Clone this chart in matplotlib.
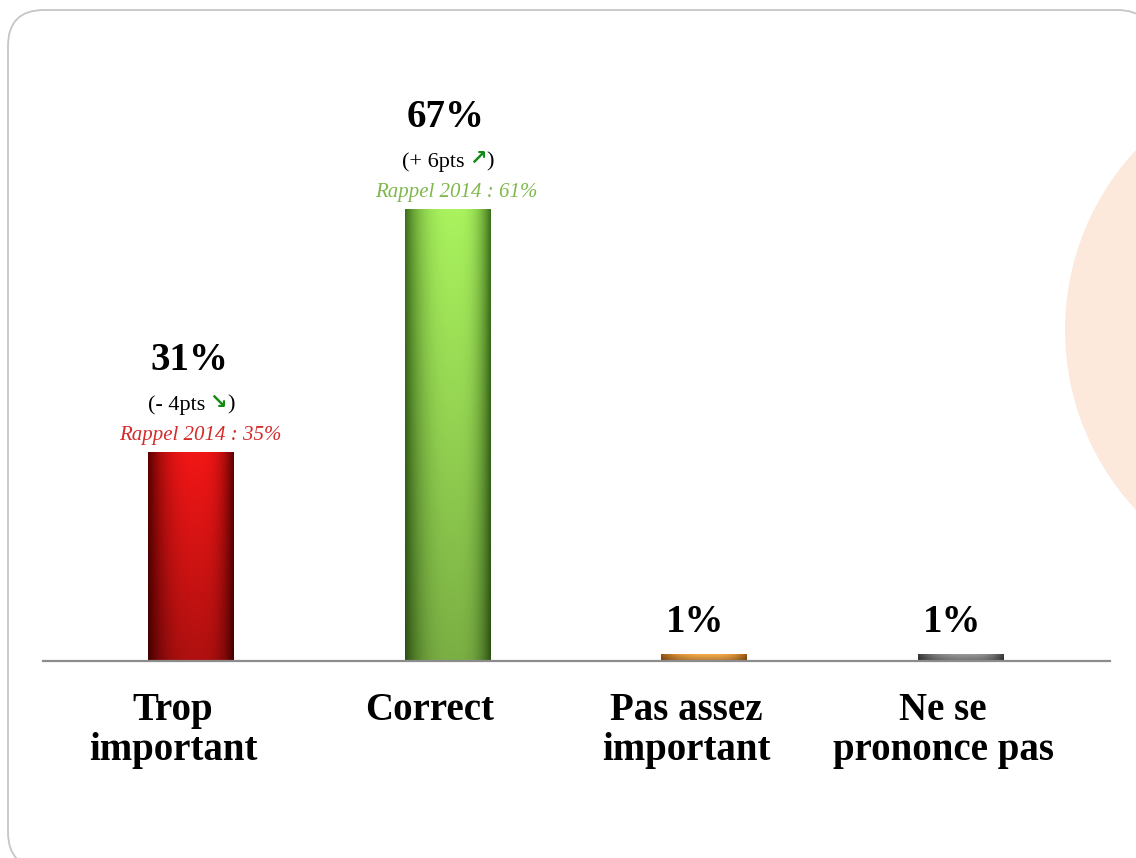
import numpy as np
import matplotlib
matplotlib.use("Agg")
import matplotlib.pyplot as plt
import matplotlib.patches as mpatches
import matplotlib.transforms as mtransforms

# --- data -------------------------------------------------------------
categories = ["Trop\nimportant", "Correct", "Pas assez\nimportant", "Ne se\nprononce pas"]
values = [31, 67, 1, 1]
value_labels = ["31%", "67%", "1%", "1%"]
change_text = ["(- 4pts", "(+ 6pts", None, None]
change_arrow = ["\u2198", "\u2197", None, None]
recall_text = ["Rappel 2014 : 35%", "Rappel 2014 : 61%", None, None]

# bar shading: (edge colour, centre colour)
bar_shades = [
    ("#5a0000", "#f21616"),
    ("#3c6e1a", "#aaf35e"),
    ("#9a5610", "#f9ac4a"),
    ("#3a3a3a", "#9a9a9a"),
]
recall_colors = ["#d42a2a", "#7fb84c", None, None]
arrow_color = "#138a13"

SERIF = ["Liberation Serif", "DejaVu Serif"]
W, H, DPI = 1136, 858, 100

fig = plt.figure(figsize=(W / DPI, H / DPI), dpi=DPI)
fig.patch.set_facecolor("white")

ident = mtransforms.IdentityTransform()

# rounded frame and decorative circle on the right (pixel coordinates)
fig.patches.append(mpatches.FancyBboxPatch((8, -10), 1145, 858, transform=ident,
                                           boxstyle="round,pad=0,rounding_size=36",
                                           facecolor="white", edgecolor="#c6c6c6",
                                           linewidth=1.3, zorder=-3))
fig.patches.append(mpatches.Circle((1329, H - 330), 264, transform=ident,
                                   facecolor="#fde9dc", edgecolor="none", zorder=-2))

# axes geometry (pixels)
ax_left, ax_right, ax_base, ax_top = 43, 1110, 661, 40
px_per_unit = 6.75
ax = fig.add_axes([ax_left / W, (H - ax_base) / H,
                   (ax_right - ax_left) / W, (ax_base - ax_top) / H])
ax.set_facecolor("none")
XLIM = (-0.577, 3.58)
YLIM = (0, (ax_base - ax_top) / px_per_unit)
for s in ("left", "right", "top"):
    ax.spines[s].set_visible(False)
ax.spines["bottom"].set_color("#8c8c8c")
ax.spines["bottom"].set_linewidth(1.6)
ax.set_yticks([])

x = np.arange(len(categories))
bars = ax.bar(x, values, width=0.335, color="none", edgecolor="none", zorder=2)

# cylinder-like gradient inside each bar
nx, ny = 200, 200
u = np.linspace(0, 1, nx)
peak = 0.58
w = np.where(u < peak, (u - peak) / peak, (u - peak) / (1 - peak))
h = 1 - np.abs(w) ** 2.8
v = np.linspace(1.0, 0.72, ny)  # bright top, darker bottom
for bar, (edge, centre) in zip(bars, bar_shades):
    e = np.array(matplotlib.colors.to_rgb(edge))
    c = np.array(matplotlib.colors.to_rgb(centre))
    img = e[None, None, :] + (c - e)[None, None, :] * h[None, :, None]
    img = np.clip(img * v[:, None, None], 0, 1)
    x0, y0 = bar.get_x(), bar.get_y()
    im = ax.imshow(img, extent=(x0, x0 + bar.get_width(), y0, y0 + bar.get_height()),
                   aspect="auto", origin="upper", zorder=2, interpolation="bilinear")
    im.set_clip_path(bar)
ax.set_xlim(*XLIM)
ax.set_ylim(*YLIM)

# category labels, sitting slightly left of the bar centres
ax.set_xticks(x)
ax.set_xticklabels(categories, family=SERIF, fontweight="bold", fontsize=28,
                   linespacing=1.12)
ax.tick_params(axis="x", length=0, pad=22)
shift = mtransforms.ScaledTranslation(-18 / DPI, 0, fig.dpi_scale_trans)
for lbl in ax.get_xticklabels():
    lbl.set_transform(lbl.get_transform() + shift)

renderer = fig.canvas.get_renderer()


def text_width(s, **kw):
    t = fig.text(0, 0, s, **kw)
    wd = t.get_window_extent(renderer).width
    t.remove()
    return wd


for xi, val, lab, ch, arr, rc, rcol in zip(x, values, value_labels, change_text,
                                           change_arrow, recall_text, recall_colors):
    if ch is None:
        ax.annotate(lab, (xi, val), xytext=(-9, 22), textcoords="offset pixels",
                    ha="center", va="baseline", family=SERIF, fontweight="bold",
                    fontsize=28, color="black")
        continue
    ax.annotate(lab, (xi, val), xytext=(-2, 82), textcoords="offset pixels",
                ha="center", va="baseline", family=SERIF, fontweight="bold",
                fontsize=28, color="black")
    ax.annotate(rc, (xi, val), xytext=(9, 12), textcoords="offset pixels",
                ha="center", va="baseline", family=SERIF, style="italic",
                fontsize=15, color=rcol)
    # "(- 4pts ↘)" built from three pieces so the arrow can be green
    fs = 16
    w1 = text_width(ch, family=SERIF, fontsize=fs)
    gap = fs * DPI / 72 * 0.22
    w2 = text_width(arr, family=["DejaVu Sans"], fontsize=fs - 1, fontweight="bold")
    w3 = text_width(")", family=SERIF, fontsize=fs)
    total = w1 + gap + w2 + w3
    start = -total / 2
    ax.annotate(ch, (xi, val), xytext=(start, 42), textcoords="offset pixels",
                ha="left", va="baseline", family=SERIF, fontsize=fs)
    ax.annotate(arr, (xi, val), xytext=(start + w1 + gap, 44), textcoords="offset pixels",
                ha="left", va="baseline", family=["DejaVu Sans"], fontsize=fs - 1,
                fontweight="bold", color=arrow_color)
    ax.annotate(")", (xi, val), xytext=(start + w1 + gap + w2, 42), textcoords="offset pixels",
                ha="left", va="baseline", family=SERIF, fontsize=fs)

fig.savefig("out.png", dpi=DPI)
